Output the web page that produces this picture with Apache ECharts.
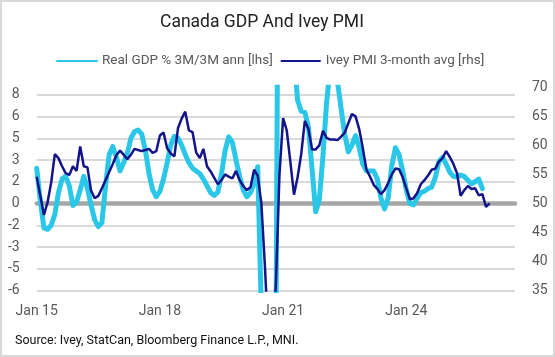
<!DOCTYPE html>
<html>
<head>
<meta charset="utf-8">
<script src="https://cdn.jsdelivr.net/npm/echarts@6/dist/echarts.min.js"></script>
<style>
html,body{margin:0;padding:0;background:#fff;}
#chart{position:absolute;left:0;top:0;width:555px;height:357px;}
#frame{position:absolute;left:0;top:0;width:555px;height:357px;box-sizing:border-box;border:2px solid #d9d9d9;pointer-events:none;}
</style>
</head>
<body>
<div id="chart"></div>
<div id="frame"></div>
<script>
// Monthly categories Jan 2015 .. Jan 2026
const monthNames = ['Jan','Feb','Mar','Apr','May','Jun','Jul','Aug','Sep','Oct','Nov','Dec'];
const months = [];
for (let i = 0; i < 133; i++) {
  months.push(monthNames[i % 12] + ' ' + String(15 + Math.floor(i / 12)));
}
const xTickLabels = ['Jan 15', 'Jan 18', 'Jan 21', 'Jan 24'];

// Real GDP % 3M/3M ann [lhs]
const gdp = [
  2.6, 0.2, -1.8, -1.9, -1.6, -0.8, 0.8, 1.8, 2.0, 1.3,
  -0.15, 0.1, 1.0, 2.0, 1.1, -0.1, -1.2, -1.7, -1.4, 1.3,
  3.6, 4.2, 3.4, 2.4, 3.0, 3.7, 4.8, 5.3, 5.4, 5.1,
  3.9, 2.2, 1.0, 0.5, 0.9, 1.8, 3.0, 4.3, 4.95, 4.8,
  4.3, 3.6, 3.0, 2.6, 2.4, 2.2, 1.8, 1.3, 0.8, 0.6,
  0.85, 2.2, 3.9, 4.9, 4.5, 3.2, 2.0, 1.0, 0.5, 0.8,
  1.5, 2.7, -8, -40, -43, -38, -12, 40, 47, 28,
  15, 11, 7.6, 6.8, 6.7, 5.6, 2.5, -0.6, 0.3, 3.5,
  7.4, 10, 11, 9.0, 7.0, 5.1, 3.8, 4.3, 5.0, 4.1,
  2.9, 2.4, 2.4, 2.4, 1.8, 0.4, -0.4, 0.4, 2.8, 4.1,
  3.6, 2.4, 1.0, 0.0, -0.1, 0.4, 0.8, 0.9, 1.1, 1.2,
  1.9, 3.1, 3.4, 2.9, 2.3, 2.0, 1.95, 2.1, 2.0, 1.7,
  1.45, 1.6, 1.8, 1.1
];

// Ivey PMI 3-month avg [rhs]
const pmi = [
  54.6, 51.3, 48.0, 50.2, 53.6, 58.5, 57.8, 56.4, 55.2, 54.9,
  56.4, 55.6, 59.8, 56.4, 56.2, 52.2, 50.9, 51.3, 52.6, 54.0,
  55.4, 56.8, 58.3, 59.1, 58.4, 57.6, 58.4, 59.4, 59.2, 59.0,
  59.2, 59.4, 58.7, 59.0, 61.7, 62.2, 59.5, 58.6, 58.1, 63.0,
  64.6, 65.8, 62.6, 62.3, 58.8, 57.8, 59.4, 56.4, 55.5, 54.4,
  53.3, 54.0, 55.0, 54.6, 54.3, 55.6, 54.0, 53.0, 52.3, 52.8,
  55.8, 54.8, 50.0, 39.0, 26, 25, 36, 55, 64.7, 62.6,
  57.2, 51.5, 54.5, 58.5, 64.2, 62.8, 59.3, 59.3, 60.0, 62.5,
  61.3, 61.0, 61.0, 60.9, 61.5, 62.2, 63.8, 65.4, 65.0, 62.8,
  59.5, 55.8, 54.6, 53.2, 52.5, 51.6, 52.3, 53.5, 55.0, 56.0,
  55.9, 54.5, 52.6, 50.7, 50.9, 51.8, 53.3, 54.0, 54.8, 55.8,
  56.0, 57.2, 57.8, 59.0, 58.0, 56.8, 55.2, 51.3, 52.3, 53.0,
  52.5, 52.6, 51.4, 51.6, 49.4, 50.0
];

const FONT = 'Roboto';
const GREY_TEXT = '#595959';
const CYAN = '#2BC7E8';
const NAVY = '#14148A';

const chart = echarts.init(document.getElementById('chart'), null, {renderer: 'canvas'});
chart.setOption({
  animation: false,
  backgroundColor: '#ffffff',
  textStyle: {fontFamily: FONT},
  title: {
    text: 'Canada GDP And Ivey PMI',
    left: 155,
    top: 9,
    textStyle: {fontFamily: FONT, fontSize: 17.5, fontWeight: 'normal', color: '#222222'}
  },
  legend: {
    left: 51,
    top: 49,
    itemWidth: 40,
    itemHeight: 14,
    itemGap: 7,
    itemStyle: {opacity: 0, borderWidth: 0},
    textStyle: {fontFamily: FONT, fontSize: 13.5, color: GREY_TEXT},
    data: ['Real GDP % 3M/3M ann [lhs]', 'Ivey PMI 3-month avg [rhs]']
  },
  grid: {left: 36.7, right: 40, top: 87.3, bottom: 66.5},
  xAxis: [
    {
      type: 'category',
      data: months,
      boundaryGap: false,
      axisLine: {show: false, onZero: false},
      axisTick: {show: false},
      splitLine: {show: false},
      axisLabel: {
        interval: 33,
        margin: 14,
        color: GREY_TEXT,
        fontFamily: FONT,
        fontSize: 14,
        formatter: function (v, i) {
          const k = i / 34;
          return (Number.isInteger(k) && xTickLabels[k]) ? xTickLabels[k] : '';
        }
      }
    },
    {
      type: 'category',
      data: months,
      boundaryGap: false,
      position: 'bottom',
      axisLine: {show: true, onZero: true, onZeroAxisIndex: 0, lineStyle: {color: '#a6a6a6', width: 4.5}},
      axisTick: {show: false},
      axisLabel: {show: false},
      splitLine: {show: false}
    }
  ],
  yAxis: [
    {
      type: 'value',
      position: 'left',
      min: -6.4,
      max: 8.55,
      interval: 1.6,
      axisLine: {show: false},
      axisTick: {show: false},
      splitLine: {show: true, showMaxLine: false, lineStyle: {color: '#d9d9d9', width: 2}},
      axisLabel: {
        showMaxLabel: false,
        margin: 17,
        color: GREY_TEXT,
        fontFamily: FONT,
        fontSize: 14,
        formatter: function (v) { return v > 8.1 ? '' : String(Math.round(v)); }
      }
    },
    {
      type: 'value',
      position: 'right',
      min: 35,
      max: 70,
      interval: 5,
      axisLine: {show: false},
      axisTick: {show: false},
      splitLine: {show: false},
      axisLabel: {margin: 17, color: GREY_TEXT, fontFamily: FONT, fontSize: 14}
    }
  ],
  series: [
    {
      name: 'Real GDP % 3M/3M ann [lhs]',
      type: 'line',
      xAxisIndex: 0,
      yAxisIndex: 0,
      data: gdp,
      symbol: 'none',
      clip: true,
      z: 2,
      itemStyle: {color: CYAN},
      lineStyle: {color: CYAN, width: 5, join: 'round', cap: 'round'}
    },
    {
      name: 'Ivey PMI 3-month avg [rhs]',
      type: 'line',
      xAxisIndex: 0,
      yAxisIndex: 1,
      data: pmi,
      symbol: 'none',
      clip: true,
      z: 3,
      itemStyle: {color: NAVY},
      lineStyle: {color: NAVY, width: 2.5}
    }
  ],
  graphic: [
    {
      type: 'text',
      left: 15,
      top: 334,
      style: {text: 'Source: Ivey, StatCan, Bloomberg Finance L.P., MNI.', fill: '#111111', font: '12.5px Roboto'}
    }
  ]
});
</script>
</body>
</html>
